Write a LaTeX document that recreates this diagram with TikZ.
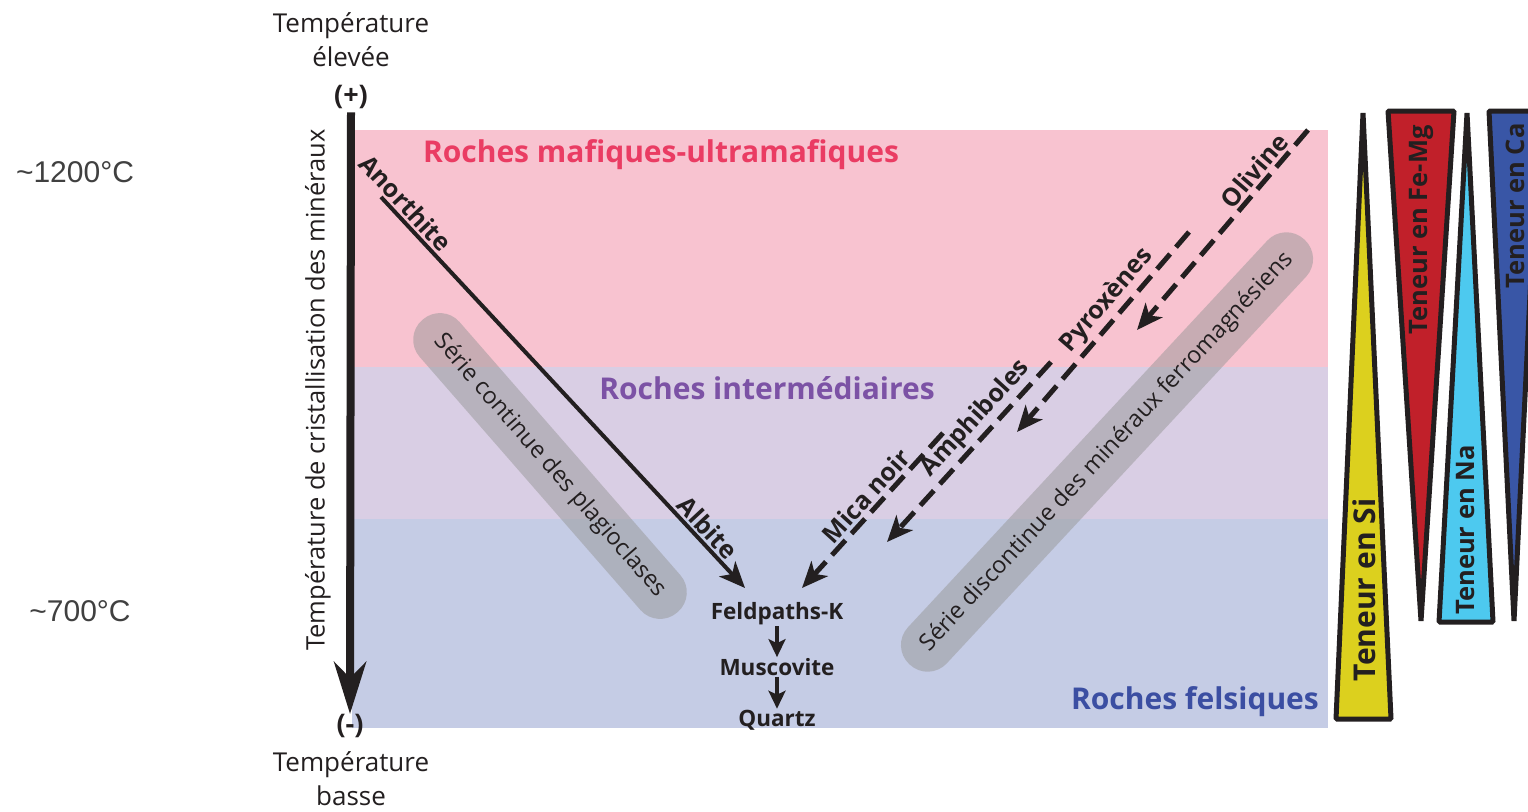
\documentclass[tikz,border=0pt]{standalone}
\usepackage{fontspec}
\setmainfont{Open Sans}
\newfontfamily\arialfont{Liberation Sans}
\usetikzlibrary{arrows.meta,calc,positioning}

\definecolor{bandmafic}{HTML}{F8C3D0}
\definecolor{bandinter}{HTML}{D9CEE4}
\definecolor{bandfelsic}{HTML}{C5CCE5}
\definecolor{txtmafic}{HTML}{EA3C63}
\definecolor{txtinter}{HTML}{7C52A5}
\definecolor{txtfelsic}{HTML}{3B4EA2}
\definecolor{ink}{HTML}{231F20}
\definecolor{tempgray}{HTML}{404040}
\definecolor{seriegray}{HTML}{979797}
\definecolor{siyellow}{HTML}{DCD01E}
\definecolor{fered}{HTML}{C1202A}
\definecolor{nacyan}{HTML}{4DC9EF}
\definecolor{cablue}{HTML}{3956A6}

\begin{document}
\begin{tikzpicture}[x=1pt,y=-1pt,
  every node/.style={text=ink},
  plain/.style={font=\fontsize{26}{34}\selectfont, align=center},
  rochetitle/.style={font=\fontsize{30}{34}\selectfont\bfseries},
  minlabel/.style={font=\fontsize{25}{28}\selectfont\bfseries, sloped, above, inner sep=2.5pt},
  minline/.style={draw=ink, line width=4pt, -{Stealth[length=26pt,width=22pt,inset=7pt]}},
  dashline/.style={minline, line width=5pt, dash pattern=on 20pt off 9pt},
  serie/.style={fill=seriegray, fill opacity=0.5, text opacity=1, rounded corners=26pt,
    inner sep=0pt, minimum height=53pt, font=\fontsize{23.5}{27}\selectfont},
  endmin/.style={font=\fontsize{22.5}{26}\selectfont\bfseries, inner sep=1pt},
  teneur/.style={draw=ink, line width=5pt, line join=bevel},
  teneurtext/.style={font=\fontsize{25.5}{29}\selectfont\bfseries, rotate=90}]
  \useasboundingbox (0,0) rectangle (1528,811);

  % Rock bands
  \fill[bandmafic] (352,130) rectangle (1328,367);
  \fill[bandinter] (352,367) rectangle (1328,519);
  \fill[bandfelsic] (352,519) rectangle (1328,728);
  \node[rochetitle, text=txtmafic] (mafic) at (661,155) {Roches mafiques-ultramafiques};
  \node[rochetitle, text=txtinter] (inter) at (767,388) {Roches intermédiaires};
  \node[rochetitle, text=txtfelsic] (felsic) at (1195,702) {Roches felsiques};

  % Temperature axis
  \node[plain] (hot) at (351,40) {Température\\élevée};
  \node[plain] (cold) at (351,779) {Température\\basse};
  \node[plain, font=\fontsize{27}{30}\selectfont\bfseries] (plus) at (351,97) {(+)};
  \node[plain, font=\fontsize{27}{30}\selectfont\bfseries] (minus) at (350,726) {(-)};
  \draw[ink, line width=8pt, -{Stealth[length=52pt,width=32pt,inset=16pt]}] (plus.south) -- (350,714);
  \node[plain, font=\fontsize{25.5}{30}\selectfont, rotate=90] (axis) at (318,390) {Température de cristallisation des minéraux};
  \node[font=\arialfont\fontsize{30}{34}\selectfont, text=tempgray] (t1200) at (75,172) {\textasciitilde1200°C};
  \node[font=\arialfont\fontsize{30}{34}\selectfont, text=tempgray] (t700) at (80,611) {\textasciitilde700°C};

  % Series bands
  \node[serie, rotate=-48.9, minimum width=388pt] (plagio) at (550,466) {Série continue des plagioclases};
  \node[serie, rotate=47.1, minimum width=580pt] (ferro) at (1107,452) {Série discontinue des minéraux ferromagnésiens};

  % Continuous series
  \coordinate (anoS) at (381,197);
  \coordinate (anoE) at (745,588);
  \draw[minline] (anoS) -- (anoE)
    node[minlabel, pos=0.04] {Anorthite}
    node[minlabel, pos=0.87] {Albite};

  % Discontinuous series
  \coordinate (oliS) at (1308,130);
  \coordinate (oliE) at (1137,330);
  \coordinate (pyrS) at (1189,232);
  \coordinate (pyrE) at (1017,432);
  \coordinate (amphS) at (1051,362);
  \coordinate (amphE) at (887,542);
  \coordinate (micaS) at (943,433);
  \coordinate (micaE) at (802,588);
  \draw[dashline] (oliS) -- (oliE) node[minlabel, pos=0.25] {Olivine};
  \draw[dashline] (pyrS) -- (pyrE) node[minlabel, pos=0.40] {Pyroxènes};
  \draw[dashline] (amphS) -- (amphE) node[minlabel, pos=0.38] {Amphiboles};
  \draw[dashline] (micaS) -- (micaE) node[minlabel, pos=0.47] {Mica noir};

  % Last minerals
  \node[endmin] (feldk) at (777,614) {Feldpaths-K};
  \node[endmin] (musco) at (777,667) {Muscovite};
  \node[endmin] (quartz) at (777,720) {Quartz};
  \draw[ink, line width=3.5pt, -{Stealth[length=18pt,width=17pt,inset=4pt]}] (feldk) -- (musco);
  \draw[ink, line width=3.5pt, -{Stealth[length=18pt,width=17pt,inset=4pt]}] (musco) -- (quartz);

  % Content wedges
  \draw[teneur, fill=siyellow] (1363,113) -- (1391,719) -- (1336,719) -- cycle;
  \draw[teneur, fill=fered] (1388,111) -- (1454,111) -- (1421,621) -- cycle;
  \draw[teneur, fill=nacyan] (1467,113) -- (1493,622) -- (1439,622) -- cycle;
  \draw[teneur, fill=cablue] (1489,111) -- (1539,111) -- (1514,621) -- cycle;
  \node[teneurtext, font=\fontsize{30}{34}\selectfont\bfseries] (si) at (1364,590) {Teneur en Si};
  \node[teneurtext] (femg) at (1421,230) {Teneur en Fe-Mg};
  \node[teneurtext] (na) at (1466,530) {Teneur en Na};
  \node[teneurtext] (ca) at (1515,206) {Teneur en Ca};
\end{tikzpicture}
\end{document}
